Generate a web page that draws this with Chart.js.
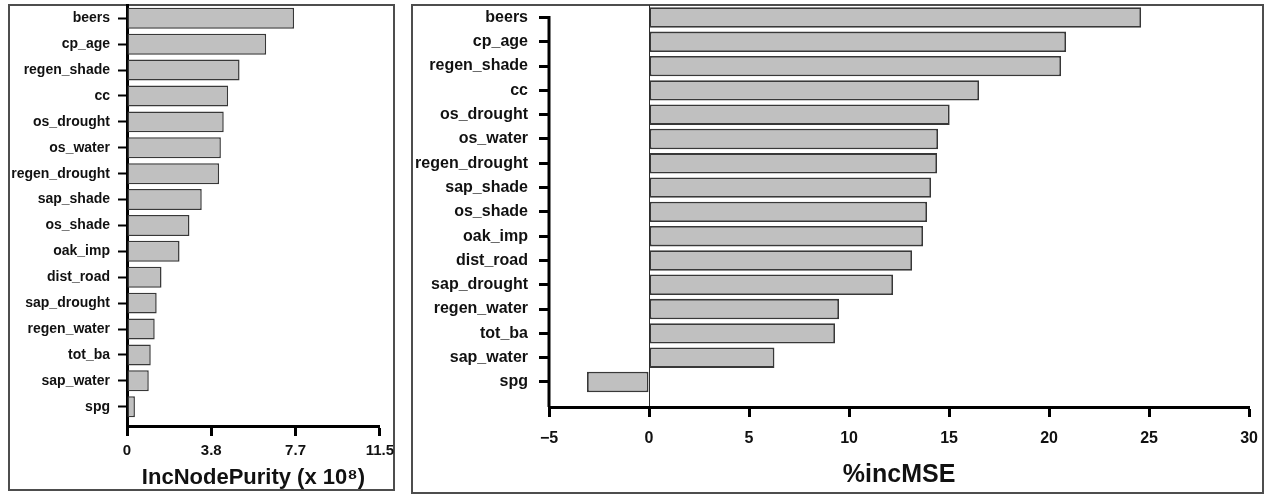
<!DOCTYPE html>
<html>
<head>
<meta charset="utf-8">
<script src="https://cdn.jsdelivr.net/npm/chart.js@4.4.1/dist/chart.umd.min.js"></script>
<style>
  html, body { margin: 0; padding: 0; background: #fff; width: 1270px; height: 495px; overflow: hidden; }
  .frame { position: absolute; border: 2px solid #4d4d4d; box-sizing: border-box; }
  .wrap { position: absolute; top: 0; }
  canvas { display: block; }
</style>
</head>
<body>
<div class="frame" style="left:8px; top:4px; width:387px; height:487px;"></div>
<div class="frame" style="left:411px; top:4px; width:853px; height:490px;"></div>
<div class="wrap" style="left:0px;"><canvas id="purity" width="400" height="495"></canvas></div>
<div class="wrap" style="left:400px;"><canvas id="mse" width="870" height="495"></canvas></div>
<script>
// Predictor variables, ranked by importance
const variables = ['beers', 'cp_age', 'regen_shade', 'cc', 'os_drought', 'os_water',
  'regen_drought', 'sap_shade', 'os_shade', 'oak_imp', 'dist_road', 'sap_drought',
  'regen_water', 'tot_ba', 'sap_water', 'spg'];

// Increase in node purity (x 10^8)
const incNodePurity = [7.6, 6.33, 5.12, 4.6, 4.4, 4.27, 4.19, 3.4, 2.84, 2.39,
  1.57, 1.35, 1.26, 1.08, 0.99, 0.36];

// Percent increase in mean squared error
const incMSE = [24.6, 20.85, 20.6, 16.5, 15.03, 14.45, 14.4, 14.1, 13.9, 13.7,
  13.15, 12.2, 9.5, 9.3, 6.27, -3.1];

// Axis ticks
const purityTickValues = [0, 11.5 / 3, 23 / 3, 11.5];
const purityTickLabels = ['0', '3.8', '7.7', '11.5'];
const mseTickValues = [-5, 0, 5, 10, 15, 20, 25, 30];
const mseTickLabels = ['\u22125', '0', '5', '10', '15', '20', '25', '30'];

const FONT = "'Liberation Sans', Arial, Helvetica, sans-serif";
const BAR_FILL = '#c0c0c0';
const BAR_EDGE = '#383838';
const INK = '#111111';

function rows(values) {
  return values.map((v, i) => ({ x: v, y: i }));
}

function variableAxis(cfg) {
  return {
    type: 'linear',
    reverse: true,
    min: cfg.min,
    max: cfg.max,
    offset: false,
    afterBuildTicks: (scale) => { scale.ticks = variables.map((_, i) => ({ value: i })); },
    afterFit: (scale) => {
      scale.width = cfg.width;
      scale.paddingTop = 5;
      scale.paddingBottom = 0;
    },
    ticks: {
      autoSkip: false,
      padding: cfg.padding,
      color: INK,
      font: { family: FONT, size: cfg.fontSize, weight: 'bold' },
      callback: (v) => variables[v]
    },
    grid: {
      offset: false,
      drawOnChartArea: false,
      tickLength: cfg.tickLength,
      tickWidth: cfg.tickWidth,
      tickColor: '#000'
    },
    border: { display: cfg.border, color: '#000', width: 3 }
  };
}

// Left panel: IncNodePurity
new Chart(document.getElementById('purity'), {
  type: 'bar',
  data: {
    datasets: [{
      data: rows(incNodePurity),
      backgroundColor: BAR_FILL,
      borderColor: BAR_EDGE,
      borderWidth: 1.5,
      borderSkipped: false,
      barPercentage: 0.81,
      categoryPercentage: 1
    }]
  },
  options: {
    indexAxis: 'y',
    responsive: false,
    animation: false,
    layout: { padding: { top: 0, right: 17, left: 0, bottom: 0 } },
    plugins: { legend: { display: false }, tooltip: { enabled: false } },
    scales: {
      y: variableAxis({ min: -0.514, max: 15.745, width: 127, padding: 8, fontSize: 14,
                        tickLength: 9, tickWidth: 2, border: true }),
      x: {
        type: 'linear',
        min: 0,
        max: 11.5,
        afterBuildTicks: (scale) => { scale.ticks = purityTickValues.map(v => ({ value: v })); },
        afterFit: (scale) => { scale.height = 69; },
        ticks: {
          padding: 6,
          color: INK,
          maxRotation: 0,
          font: { family: FONT, size: 15, weight: 'bold' },
          callback: (v, i) => purityTickLabels[i]
        },
        grid: { drawOnChartArea: false, tickLength: 10, tickWidth: 3, tickColor: '#000' },
        border: { color: '#000', width: 3 },
        title: {
          display: true,
          text: 'IncNodePurity (x 10\u2078)',
          color: INK,
          font: { family: FONT, size: 22, weight: 'bold' },
          padding: { top: 0, bottom: 4 }
        }
      }
    }
  }
});

// Right panel: %incMSE. Its variable axis line runs from the first row down to the value axis.
const rowAxisLine = {
  id: 'rowAxisLine',
  afterDatasetsDraw(chart) {
    const { ctx, chartArea, scales } = chart;
    const yTop = scales.y.getPixelForValue(0);
    ctx.save();
    ctx.strokeStyle = '#000';
    ctx.lineWidth = 3;
    ctx.beginPath();
    ctx.moveTo(chartArea.left, yTop - 1.5);
    ctx.lineTo(chartArea.left, chartArea.bottom);
    ctx.stroke();
    ctx.restore();
  }
};

new Chart(document.getElementById('mse'), {
  type: 'bar',
  data: {
    datasets: [{
      data: rows(incMSE),
      backgroundColor: BAR_FILL,
      borderColor: BAR_EDGE,
      borderWidth: 1.8,
      borderSkipped: false,
      barPercentage: 0.84,
      categoryPercentage: 1
    }]
  },
  options: {
    indexAxis: 'y',
    responsive: false,
    animation: false,
    layout: { padding: { top: 0, right: 18, left: 0, bottom: 0 } },
    plugins: { legend: { display: false }, tooltip: { enabled: false } },
    scales: {
      y: variableAxis({ min: -0.514, max: 16.03, width: 149, padding: 11, fontSize: 16,
                        tickLength: 10, tickWidth: 3, border: false }),
      x: {
        type: 'linear',
        min: -5,
        max: 30,
        afterBuildTicks: (scale) => { scale.ticks = mseTickValues.map(v => ({ value: v })); },
        afterFit: (scale) => { scale.height = 88; },
        ticks: {
          padding: 12,
          color: INK,
          maxRotation: 0,
          font: { family: FONT, size: 16, weight: 'bold' },
          callback: (v, i) => mseTickLabels[i]
        },
        grid: {
          drawOnChartArea: true,
          color: (c) => (c.tick && c.tick.value === 0 ? '#2b2b2b' : 'rgba(0,0,0,0)'),
          lineWidth: 1,
          tickLength: 10,
          tickWidth: 3,
          tickColor: '#000'
        },
        border: { color: '#000', width: 3 },
        title: {
          display: true,
          text: '%incMSE',
          color: INK,
          font: { family: FONT, size: 25, weight: 'bold' },
          padding: { top: 0, bottom: 5 }
        }
      }
    }
  },
  plugins: [rowAxisLine]
});
</script>
</body>
</html>
